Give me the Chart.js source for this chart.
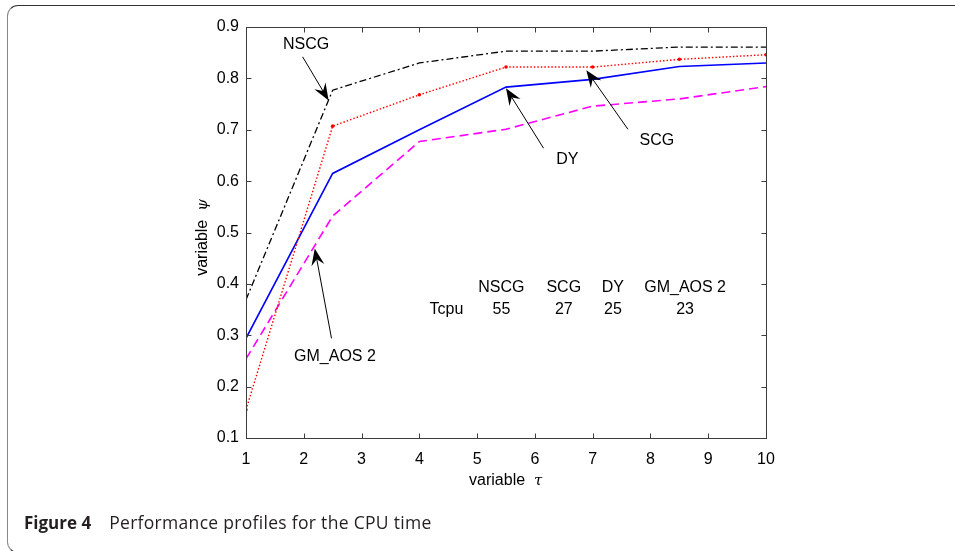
<!DOCTYPE html>
<html>
<head>
<meta charset="utf-8">
<script src="https://cdn.jsdelivr.net/npm/chart.js@4"></script>
<style>
html, body { margin: 0; padding: 0; background: #fff; }
body { width: 955px; height: 551px; position: relative; overflow: hidden; }
#frame { position: absolute; left: 7px; top: 5px; width: 1000px; height: 548px; box-sizing: border-box;
  border: 1px solid #333; border-left: 1.5px solid #888; border-radius: 11px; }
#chart { position: absolute; left: 0; top: 0; }
#caption { position: absolute; left: 24px; top: 510px; font-family: "Open Sans"; font-size: 17px; color: #231f20; white-space: nowrap; }
#caption b { font-weight: 700; margin-right: 18px; }
#caption span { font-size: 17.5px; letter-spacing: 0.3px; }
</style>
</head>
<body>
<div id="frame"></div>
<canvas id="chart" width="955" height="551"></canvas>
<div id="caption"><b>Figure 4</b><span>Performance profiles for the CPU time</span></div>
<script>
// performance profile data
const tau = [1, 2.5, 4, 5.5, 7, 8.5, 10];
const nscg = [0.369, 0.777, 0.830, 0.853, 0.853, 0.861, 0.861];
const scg = [0.155, 0.707, 0.768, 0.822, 0.822, 0.837, 0.846];
const dy = [0.294, 0.615, 0.700, 0.783, 0.798, 0.823, 0.830];
const gmAos = [0.254, 0.532, 0.677, 0.701, 0.746, 0.760, 0.784];

// Tcpu table
const methods = ['NSCG', 'SCG', 'DY', 'GM_AOS 2'];
const tcpu = [55, 27, 25, 23];

const xTicks = [1, 2, 3, 4, 5, 6, 7, 8, 9, 10];
const yTicks = [0.1, 0.2, 0.3, 0.4, 0.5, 0.6, 0.7, 0.8, 0.9];

function pts(ys) {
    return tau.map((t, i) => ({ x: t, y: ys[i] }));
}

// labels + arrows, in data coordinates
const notes = [
    { text: 'NSCG', at: [2.04, 0.865], from: [1.98, 0.842], to: [2.43, 0.757] },
    { text: 'DY', at: [6.56, 0.641], from: [6.15, 0.664], to: [5.5, 0.781] },
    { text: 'SCG', at: [8.11, 0.678], from: [7.61, 0.701], to: [6.89, 0.816] },
    { text: 'GM_AOS 2', at: [2.54, 0.258], from: [2.48, 0.294], to: [2.19, 0.469] }
];
const tableCols = [5.42, 6.5, 7.35, 8.6];

function arrow(ctx, x0, y0, x1, y1) {
    const ang = Math.atan2(y1 - y0, x1 - x0);
    const len = 17, half = 6.5, notch = 11;
    ctx.beginPath();
    ctx.moveTo(x0, y0);
    ctx.lineTo(x1 - Math.cos(ang) * notch, y1 - Math.sin(ang) * notch);
    ctx.stroke();
    ctx.save();
    ctx.translate(x1, y1);
    ctx.rotate(ang);
    ctx.beginPath();
    ctx.moveTo(0, 0);
    ctx.lineTo(-len, -half);
    ctx.lineTo(-notch, 0);
    ctx.lineTo(-len, half);
    ctx.closePath();
    ctx.fill();
    ctx.restore();
}

function axisTitle(ctx, cx, cy, sym) {
    const gap = 9;
    ctx.font = '16px "Liberation Sans"';
    const w1 = ctx.measureText('variable').width;
    ctx.font = 'italic 16px "DejaVu Serif"';
    const w2 = ctx.measureText(sym).width;
    const start = cx - (w1 + gap + w2) / 2;
    ctx.textAlign = 'left';
    ctx.textBaseline = 'middle';
    ctx.font = '16px "Liberation Sans"';
    ctx.fillText('variable', start, cy);
    ctx.font = 'italic 15px "DejaVu Serif"';
    ctx.fillText(sym, start + w1 + gap, cy);
}

const decorations = {
    id: 'decorations',
    afterDraw(chart) {
        const { ctx, chartArea: a, scales: { x, y } } = chart;
        ctx.save();
        // box + inward ticks
        ctx.strokeStyle = '#3c3c3c';
        ctx.lineWidth = 1;
        const L = Math.round(a.left) + 0.5, R = Math.round(a.right) + 0.5;
        const T = Math.round(a.top) + 0.5, B = Math.round(a.bottom) + 0.5;
        ctx.strokeRect(L, T, R - L, B - T);
        ctx.beginPath();
        xTicks.forEach(v => {
            const px = Math.round(x.getPixelForValue(v)) + 0.5;
            ctx.moveTo(px, B); ctx.lineTo(px, B - 5);
            ctx.moveTo(px, T); ctx.lineTo(px, T + 5);
        });
        yTicks.forEach(v => {
            const py = Math.round(y.getPixelForValue(v)) + 0.5;
            ctx.moveTo(L, py); ctx.lineTo(L + 5, py);
            ctx.moveTo(R, py); ctx.lineTo(R - 5, py);
        });
        ctx.stroke();

        // annotations
        ctx.fillStyle = '#000';
        ctx.strokeStyle = '#000';
        ctx.lineWidth = 1;
        ctx.font = '16px "Liberation Sans"';
        ctx.textAlign = 'center';
        ctx.textBaseline = 'middle';
        notes.forEach(n => {
            ctx.fillText(n.text, x.getPixelForValue(n.at[0]), y.getPixelForValue(n.at[1]));
            arrow(ctx, x.getPixelForValue(n.from[0]), y.getPixelForValue(n.from[1]),
                x.getPixelForValue(n.to[0]), y.getPixelForValue(n.to[1]));
        });

        // Tcpu table
        const r1 = y.getPixelForValue(0.393), r2 = y.getPixelForValue(0.349);
        methods.forEach((m, i) => {
            ctx.fillText(m, x.getPixelForValue(tableCols[i]), r1);
            ctx.fillText(String(tcpu[i]), x.getPixelForValue(tableCols[i]), r2);
        });
        ctx.fillText('Tcpu', x.getPixelForValue(4.47), r2);

        // axis titles
        axisTitle(ctx, 506, 481, '\u03c4');
        ctx.translate(203, 237);
        ctx.rotate(-Math.PI / 2);
        axisTitle(ctx, 0, 0, '\u03c8');
        ctx.restore();
    }
};

Chart.defaults.font.family = '"Liberation Sans", Arial, sans-serif';
Chart.defaults.font.size = 16;
Chart.defaults.color = '#000';

new Chart(document.getElementById('chart'), {
    type: 'line',
    data: {
        datasets: [{
            label: 'NSCG',
            data: pts(nscg),
            borderColor: '#000',
            borderWidth: 1.3,
            borderDash: [7, 3, 2, 3],
            pointRadius: 0
        }, {
            label: 'SCG',
            data: pts(scg),
            borderColor: '#ff0000',
            borderWidth: 1.4,
            borderDash: [1.5, 2],
            pointRadius: 1.8,
            pointBackgroundColor: '#ff0000',
            pointBorderWidth: 0
        }, {
            label: 'DY',
            data: pts(dy),
            borderColor: '#0000ff',
            borderWidth: 1.6,
            pointRadius: 0
        }, {
            label: 'GM_AOS 2',
            data: pts(gmAos),
            borderColor: '#ff00ff',
            borderWidth: 1.6,
            borderDash: [9, 5],
            pointRadius: 0
        }]
    },
    options: {
        responsive: false,
        animation: false,
        layout: { padding: { left: 200, top: 27, right: 189, bottom: 73 } },
        plugins: { legend: { display: false }, tooltip: { enabled: false } },
        scales: {
            x: {
                type: 'linear',
                min: 1, max: 10,
                afterFit: s => { s.height = 40; },
                afterBuildTicks: s => { s.ticks = xTicks.map(v => ({ value: v })); },
                grid: { display: false, drawTicks: false },
                border: { display: false },
                ticks: { padding: 12, maxRotation: 0 }
            },
            y: {
                min: 0.1, max: 0.9,
                afterFit: s => { s.width = 46; },
                afterBuildTicks: s => { s.ticks = yTicks.map(v => ({ value: v })); },
                grid: { display: false, drawTicks: false },
                border: { display: false },
                ticks: { padding: 7, callback: v => v.toFixed(1) }
            }
        }
    },
    plugins: [decorations]
});
</script>
</body>
</html>
